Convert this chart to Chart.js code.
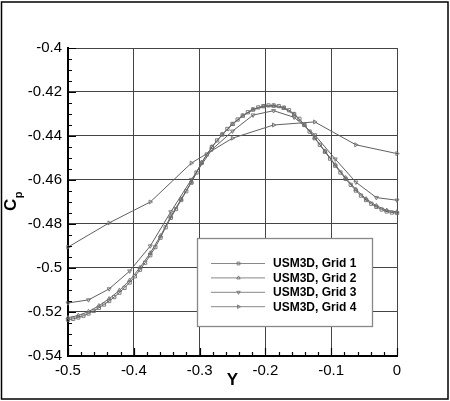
<!DOCTYPE html>
<html>
<head>
<meta charset="utf-8">
<script src="https://cdn.jsdelivr.net/npm/chart.js@4/dist/chart.umd.min.js"></script>
<style>
  body { margin: 0; background: #fff; }
  canvas { display: block; }
</style>
</head>
<body>
<canvas id="cpChart" width="450" height="401"></canvas>
<script>
// Stations along Y for each grid level
const grid1X = [-0.5, -0.4922, -0.4844, -0.4766, -0.4688, -0.4609, -0.4531, -0.4453,
  -0.4375, -0.4297, -0.4219, -0.4141, -0.4063, -0.3984, -0.3906, -0.3828,
  -0.375, -0.3672, -0.3594, -0.3516, -0.3438, -0.3359, -0.3281, -0.3203,
  -0.3125, -0.3047, -0.2969, -0.2891, -0.2813, -0.2734, -0.2656, -0.2578,
  -0.25, -0.2422, -0.2344, -0.2266, -0.2188, -0.2109, -0.2031, -0.1953,
  -0.1875, -0.1797, -0.1719, -0.1641, -0.1563, -0.1484, -0.1406, -0.1328,
  -0.125, -0.1172, -0.1094, -0.1016, -0.0938, -0.0859, -0.0781, -0.0703,
  -0.0625, -0.0547, -0.0469, -0.0391, -0.0313, -0.0234, -0.0156, -0.0078, 0];
const grid1Cp = [-0.5235, -0.5231, -0.5225, -0.5217, -0.5207, -0.5195, -0.5181, -0.5166,
  -0.5150, -0.5132, -0.5112, -0.5090, -0.5066, -0.5038, -0.5008, -0.4976,
  -0.4942, -0.4905, -0.4862, -0.4815, -0.4772, -0.4732, -0.4691, -0.4651,
  -0.4612, -0.4566, -0.4522, -0.4484, -0.4450, -0.4420, -0.4393, -0.4368,
  -0.4345, -0.4325, -0.4307, -0.4292, -0.4279, -0.4270, -0.4264, -0.4261,
  -0.4261, -0.4264, -0.4271, -0.4283, -0.4300, -0.4322, -0.4350, -0.4380,
  -0.4410, -0.4440, -0.4472, -0.4503, -0.4535, -0.4566, -0.4595, -0.4622,
  -0.4648, -0.4671, -0.4691, -0.4708, -0.4722, -0.4734, -0.4743, -0.4748, -0.4750];

const grid2X = [-0.5, -0.4844, -0.4688, -0.4531, -0.4375, -0.4219, -0.4063, -0.3906,
  -0.375, -0.3594, -0.3438, -0.3281, -0.3125, -0.2969, -0.2813, -0.2656,
  -0.25, -0.2344, -0.2188, -0.2031, -0.1875, -0.1719, -0.1563, -0.1406,
  -0.125, -0.1094, -0.0938, -0.0781, -0.0625, -0.0469, -0.0313, -0.0156, 0];
const grid2Cp = [-0.5226, -0.5216, -0.5198, -0.5172, -0.5140, -0.5102, -0.5056, -0.4998,
  -0.4932, -0.4854, -0.4766, -0.4687, -0.4609, -0.4521, -0.4450, -0.4394,
  -0.4347, -0.4309, -0.4281, -0.4266, -0.4264, -0.4274, -0.4302, -0.4350,
  -0.4408, -0.4469, -0.4531, -0.4590, -0.4643, -0.4686, -0.4717, -0.4738, -0.4745];

const grid3X = [-0.5, -0.4688, -0.4375, -0.4063, -0.375, -0.3438, -0.3125, -0.2813,
  -0.25, -0.2188, -0.1875, -0.1563, -0.125, -0.0938, -0.0625, -0.0313, 0];
const grid3Cp = [-0.5159, -0.5145, -0.5095, -0.5014, -0.4900, -0.4745, -0.4598, -0.4462,
  -0.4378, -0.4305, -0.4285, -0.4315, -0.4395, -0.4505, -0.4610, -0.4680, -0.4692];

const grid4X = [-0.5, -0.4375, -0.375, -0.3125, -0.25, -0.1875, -0.125, -0.0625, 0];
const grid4Cp = [-0.4905, -0.4795, -0.4700, -0.4523, -0.4410, -0.4350, -0.4336, -0.4440, -0.4480];

const seriesLabels = ['USM3D, Grid 1', 'USM3D, Grid 2', 'USM3D, Grid 3', 'USM3D, Grid 4'];

const xMin = -0.5, xMax = 0, xStep = 0.1, xMinorStep = 0.02;
const yMin = -0.54, yMax = -0.4, yStep = 0.02, yMinorStep = 0.005;

function toPoints(xs, ys) {
  return xs.map((x, i) => ({ x: x, y: ys[i] }));
}

function makeSeries(label, xs, ys, style, rotation) {
  return {
    label: label,
    data: toPoints(xs, ys),
    borderColor: '#606060',
    borderWidth: 1,
    pointStyle: style,
    rotation: rotation,
    pointRadius: 2.3,
    pointBorderWidth: 0.9,
    pointBorderColor: '#707070',
    pointBackgroundColor: 'rgba(255,255,255,0)',
    showLine: true,
    tension: 0,
    clip: false
  };
}

// Inward ticks, outer frame, legend box and the C_p title
const decorPlugin = {
  id: 'decor',
  afterDraw(chart) {
    const ctx = chart.ctx;
    const area = chart.chartArea;
    const xs = chart.scales.x;
    const ys = chart.scales.y;

    ctx.save();
    ctx.strokeStyle = '#000';
    ctx.lineWidth = 1.2;
    ctx.beginPath();
    for (let v = xMin; v <= xMax + 1e-9; v += xMinorStep) {
      const px = Math.round(xs.getPixelForValue(v)) + 0.5;
      const major = Math.abs(v / xStep - Math.round(v / xStep)) < 1e-6;
      ctx.moveTo(px, area.bottom);
      ctx.lineTo(px, area.bottom - (major ? 8 : 4));
    }
    for (let v = yMin; v <= yMax + 1e-9; v += yMinorStep) {
      const py = Math.round(ys.getPixelForValue(v)) + 0.5;
      const major = Math.abs(v / yStep - Math.round(v / yStep)) < 1e-6;
      ctx.moveTo(area.left, py);
      ctx.lineTo(area.left + (major ? 8 : 4), py);
    }
    ctx.stroke();

    // frame round the whole picture
    ctx.lineWidth = 1.5;
    ctx.strokeRect(1.5, 2, 446.5, 397);

    // legend
    const lx = 197.5, ly = 238.5, lw = 175, lh = 88;
    ctx.fillStyle = '#fff';
    ctx.fillRect(lx, ly, lw, lh);
    ctx.strokeStyle = '#888';
    ctx.lineWidth = 1.3;
    ctx.strokeRect(lx, ly, lw, lh);
    ctx.font = 'bold 12px "Liberation Sans", Arial, sans-serif';
    ctx.textBaseline = 'middle';
    ctx.textAlign = 'left';
    chart.data.datasets.forEach((ds, i) => {
      const ry = 263.5 + i * 14.4;
      ctx.strokeStyle = '#888';
      ctx.lineWidth = 1;
      ctx.beginPath();
      ctx.moveTo(211, ry);
      ctx.lineTo(265, ry);
      ctx.stroke();
      ctx.strokeStyle = '#707070';
      ctx.fillStyle = 'rgba(255,255,255,0)';
      ctx.lineWidth = 0.9;
      Chart.helpers.drawPoint(ctx, {
        pointStyle: ds.pointStyle, rotation: ds.rotation, radius: 2, borderWidth: 0.9
      }, 238.5, ry);
      ctx.fillStyle = '#000';
      ctx.fillText(ds.label, 273, ry + 0.5);
    });

    // y title, rotated, with subscript
    ctx.translate(16, 211);
    ctx.rotate(-Math.PI / 2);
    ctx.fillStyle = '#000';
    ctx.textBaseline = 'alphabetic';
    ctx.font = 'bold 17px "Liberation Sans", Arial, sans-serif';
    ctx.fillText('C', 0, 0);
    const cw = ctx.measureText('C').width;
    ctx.font = 'bold 11px "Liberation Sans", Arial, sans-serif';
    ctx.fillText('p', cw + 0.5, 6);
    ctx.restore();
  }
};

const fmt = v => String(Number(Number(v).toFixed(3)));

new Chart(document.getElementById('cpChart'), {
  type: 'scatter',
  data: {
    datasets: [
      makeSeries(seriesLabels[0], grid1X, grid1Cp, 'rect', 0),
      makeSeries(seriesLabels[1], grid2X, grid2Cp, 'triangle', 0),
      makeSeries(seriesLabels[2], grid3X, grid3Cp, 'triangle', 180),
      makeSeries(seriesLabels[3], grid4X, grid4Cp, 'triangle', 90)
    ]
  },
  options: {
    responsive: false,
    animation: false,
    devicePixelRatio: 1,
    layout: { padding: { left: 0, right: 53, top: 48, bottom: 0 } },
    plugins: {
      legend: { display: false },
      tooltip: { enabled: false }
    },
    scales: {
      x: {
        type: 'linear',
        min: xMin,
        max: xMax,
        afterFit(scale) { scale.height = 45; },
        ticks: {
          stepSize: xStep,
          padding: 6,
          color: '#000',
          font: { family: '"Liberation Sans", Arial, sans-serif', size: 15 },
          callback: fmt
        },
        grid: { color: '#444', lineWidth: 1, drawTicks: false },
        border: { display: true, color: '#000', width: 2 },
        title: {
          display: true,
          text: 'Y',
          color: '#000',
          font: { family: '"Liberation Sans", Arial, sans-serif', size: 17, weight: 'bold' },
          padding: { top: 0, bottom: 10 }
        }
      },
      y: {
        type: 'linear',
        min: yMin,
        max: yMax,
        afterFit(scale) { scale.width = 68; },
        ticks: {
          stepSize: yStep,
          padding: 6,
          color: '#000',
          font: { family: '"Liberation Sans", Arial, sans-serif', size: 15 },
          callback: fmt
        },
        grid: { color: '#444', lineWidth: 1, drawTicks: false },
        border: { display: true, color: '#000', width: 2 }
      }
    }
  },
  plugins: [decorPlugin]
});
</script>
</body>
</html>
